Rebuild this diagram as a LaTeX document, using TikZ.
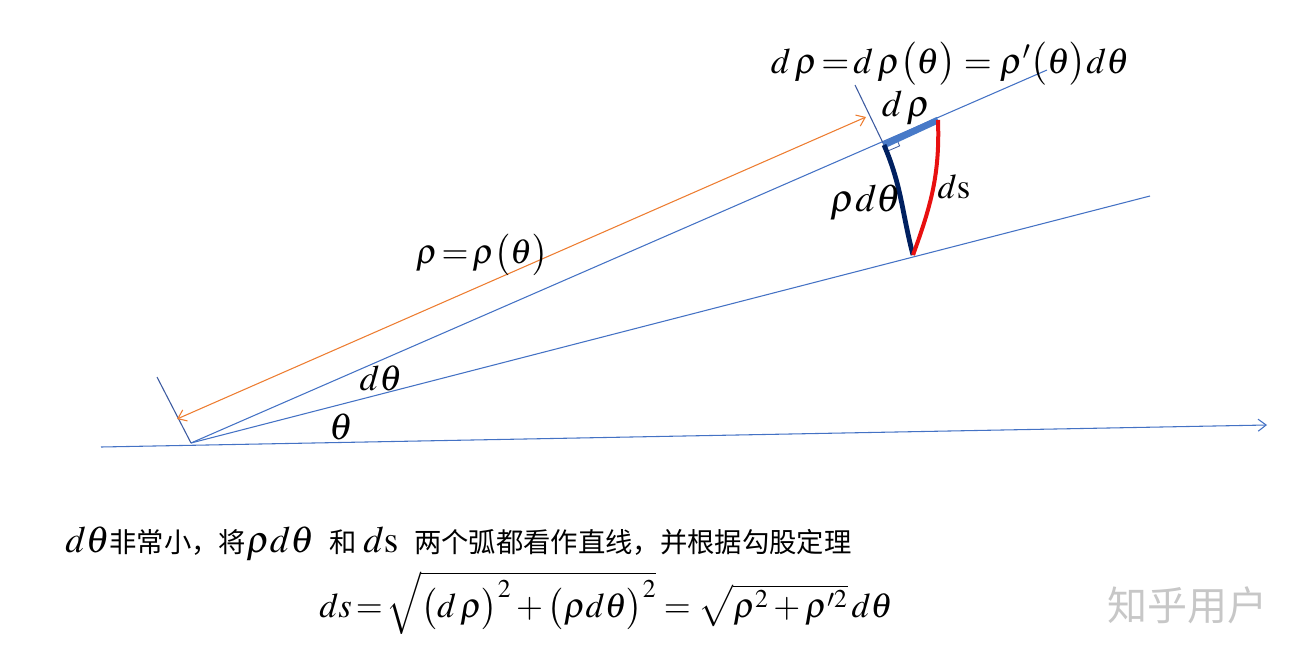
\documentclass[tikz,border=0pt]{standalone}
\usepackage{mathptmx}
\usepackage[no-math]{fontspec}
\setmainfont{Liberation Serif}
\newfontfamily\cjk{Noto Sans CJK SC}
\usetikzlibrary{arrows.meta,calc}
\definecolor{rayblue}{RGB}{68,114,196}
\definecolor{normblue}{RGB}{60,90,160}
\definecolor{drhoblue}{RGB}{72,122,200}
\definecolor{arcnavy}{RGB}{0,32,96}
\definecolor{arcred}{RGB}{232,16,16}
\definecolor{rholine}{RGB}{237,125,49}
\newcommand{\fs}[1]{\fontsize{#1}{#1}\selectfont}

\begin{document}
\begin{tikzpicture}[x=0.75pt,y=0.75pt,
    ray/.style={draw=rayblue,line width=0.8pt},
    norm line/.style={draw=normblue,line width=0.8pt},
    rho line/.style={draw=rholine,line width=0.8pt},
    drho seg/.style={draw=drhoblue,line width=5pt},
    navy arc/.style={draw=arcnavy,line width=3.6pt},
    red arc/.style={draw=arcred,line width=3pt},
    lbl/.style={inner sep=0pt,font=\fs{26}},
    zh/.style={inner sep=0pt,font=\cjk\fs{30},text=black!22},
    >={Straight Barb[length=6pt,width=9pt]}]

  \useasboundingbox (0,0) rectangle (1302,-653);

  % Define points
  \coordinate (O) at (191,-443);
  \coordinate (A0) at (101,-447);
  \coordinate (A1) at (1267,-425);
  \coordinate (U) at (1047,-70);
  \coordinate (L) at (1150,-196);
  \coordinate (P) at (884,-145);
  \coordinate (Q) at (938,-120);
  \coordinate (R) at (913,-255);
  \coordinate (N0) at (157,-377);
  \coordinate (N1) at (855,-85);
  \coordinate (F0) at (177,-419);
  \coordinate (F1) at (866,-117);

  % Draw rays
  \draw[ray,->] (A0) -- (A1);
  \draw[ray] (O) -- (U);
  \draw[ray] (O) -- (L);
  \draw[norm line] (N0) -- (O);
  \draw[norm line] (N1) -- (P);
  \draw[rho line,<->] (F0) -- (F1);

  % Draw the small triangle
  \draw[norm line,line width=0.6pt] ($(P)+(23.3:14)$) -- ++(-66.7:7) -- ++(-156.7:14);
  \draw[drho seg] (P) -- (Q);
  \draw[navy arc] (P) to[out=-66.7,in=104.6] (R);
  \draw[red arc] (Q) to[out=-88,in=70] (R);

  % Labels
  \node[lbl,font=\fs{27}] (top) at (950,-64) {$d\,\rho\!=\!d\,\rho\bigl(\theta\bigr)=\rho'\bigl(\theta\bigr)d\theta$};
  \node[lbl] (rho) at (482,-255) {$\rho\!=\!\rho\bigl(\theta\bigr)$};
  \node[lbl,font=\fs{27}] (dth) at (381,-378) {$d\theta$};
  \node[lbl,font=\fs{28}] (th) at (341,-427) {$\theta$};
  \node[lbl,font=\fs{28}] (drho) at (906,-108) {$d\,\rho$};
  \node[lbl,font=\fs{29}] (rdth) at (866,-203) {$\rho d\theta$};
  \node[lbl] (ds) at (954,-187) {$d\mathrm{s}$};
  \node[lbl,font=\fs{28},anchor=base west] (note) at (65,-552)
    {$d\theta${\cjk\fs{20.5}非常小，将}$\rho d\theta$\,
     {\cjk\fs{20.5}和}\,$d\mathrm{s}$\,
     {\cjk\fs{20.5}两个弧都看作直线，并根据勾股定理}};
  \node[lbl] (eq) at (606,-603)
    {$ds\!=\!\sqrt{\bigl(d\,\rho\bigr)^2+\bigl(\rho d\theta\bigr)^2}=\sqrt{\rho^2+\rho'^2}\,d\theta$};
  \node[zh] (mark) at (1187,-605) {知乎用户};

\end{tikzpicture}
\end{document}
